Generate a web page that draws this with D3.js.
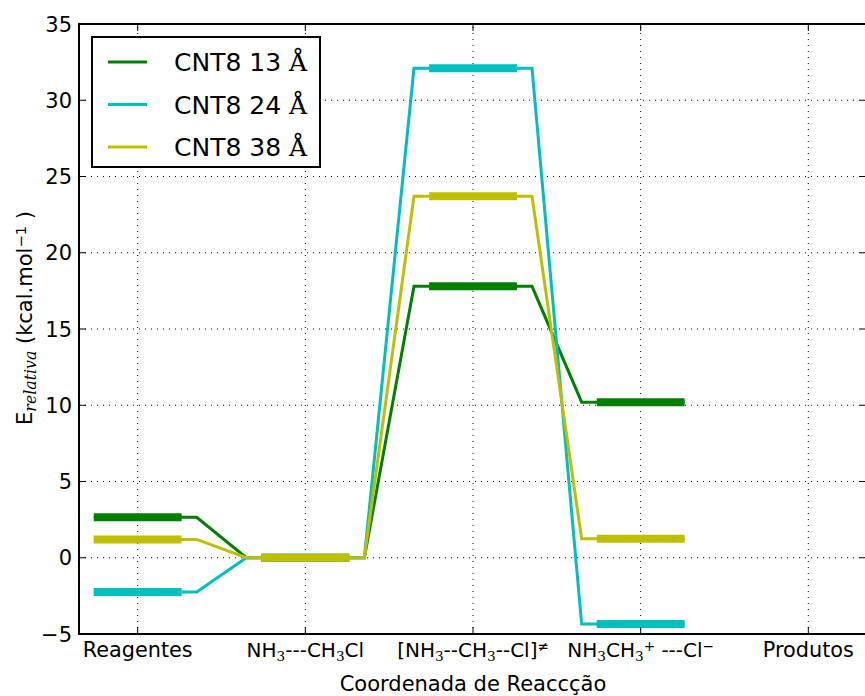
<!DOCTYPE html>
<html>
<head>
<meta charset="utf-8">
<script src="https://cdn.jsdelivr.net/npm/d3@7"></script>
<style>
body{margin:0;background:#fff;}
text{font-family:"DejaVu Sans",sans-serif;fill:#000;}
.m{font-family:"DejaVu Serif",serif;}
</style>
</head>
<body>
<script>
var width=865, height=696;

// reaction coordinate labels (rich text pieces: [text, kind])
var steps=[
	[["Reagentes",""]],
	[["NH",""],["3","sub"],["---CH",""],["3","sub"],["Cl",""]],
	[["[NH",""],["3","sub"],["--CH",""],["3","sub"],["--Cl]",""],["≠","sup"]],
	[["NH",""],["3","sub"],["CH",""],["3","sub"],["+","sup"],[" ---Cl",""],["−","sup"]],
	[["Produtos",""]]
];
var series=["CNT8 13","CNT8 24","CNT8 38"];
var colors=["#008000","#00bfbf","#bfbf00"];
var e13=[2.65,0,17.8,10.2];
var e24=[-2.25,0,32.1,-4.35];
var e38=[1.2,0,23.7,1.25];
var energies=[e13,e24,e38];
var yTicks=[-5,0,5,10,15,20,25,30,35];

var margin={left:79,top:24,right:867,bottom:634},
	barHalf=0.262, gap=0.352;

var svg=d3.select("body").append("svg").attr("width",width).attr("height",height)

var x=d3.scaleLinear().domain([-0.35,4.35]).range([margin.left,margin.right]),
	y=d3.scaleLinear().domain([-5,35]).range([margin.bottom,margin.top]);

var plot=svg.append("g")

// grid
plot.selectAll("line.gx").data(d3.range(steps.length)).enter().append("line").attr("class","gx")
	.attr("x1",d=>x(d)).attr("x2",d=>x(d)).attr("y1",y(-5)).attr("y2",y(35))
	.attr("stroke","#000").attr("stroke-width",1).attr("stroke-dasharray","1,5")
plot.selectAll("line.gy").data(yTicks).enter().append("line").attr("class","gy")
	.attr("y1",d=>y(d)).attr("y2",d=>y(d)).attr("x1",margin.left).attr("x2",margin.right)
	.attr("stroke","#000").attr("stroke-width",1).attr("stroke-dasharray","1,5")

// energy profiles
function profile(vals){
	var pts=[]
	vals.forEach((v,i)=>{
		pts.push([i==0?i-barHalf:i-gap,v])
		pts.push([i==vals.length-1?i+barHalf:i+gap,v])
	})
	return pts
}
var line=d3.line().x(d=>x(d[0])).y(d=>y(d[1]))

var g=plot.selectAll("g.series").data(energies).enter().append("g").attr("class","series")
g.append("path").attr("d",d=>line(profile(d)))
	.attr("fill","none").attr("stroke",(d,i)=>colors[i]).attr("stroke-width",3).attr("stroke-linejoin","miter")
g.selectAll("line.lvl").data(d=>d).enter().append("line").attr("class","lvl")
	.attr("x1",(d,i)=>x(i-barHalf)).attr("x2",(d,i)=>x(i+barHalf))
	.attr("y1",d=>y(d)).attr("y2",d=>y(d))
	.attr("stroke",function(){return colors[energies.indexOf(d3.select(this.parentNode).datum())]})
	.attr("stroke-width",8)

// frame
svg.append("rect").attr("x",margin.left).attr("y",margin.top)
	.attr("width",margin.right-margin.left).attr("height",margin.bottom-margin.top)
	.attr("fill","none").attr("stroke","#000").attr("stroke-width",2)

// inward ticks
var tk=7
d3.range(steps.length).forEach(i=>{
	svg.append("line").attr("x1",x(i)).attr("x2",x(i)).attr("y1",margin.bottom).attr("y2",margin.bottom-tk).attr("stroke","#000")
	svg.append("line").attr("x1",x(i)).attr("x2",x(i)).attr("y1",margin.top).attr("y2",margin.top+tk).attr("stroke","#000")
})
yTicks.forEach(v=>{
	svg.append("line").attr("x1",margin.left).attr("x2",margin.left+tk).attr("y1",y(v)).attr("y2",y(v)).attr("stroke","#000")
	svg.append("line").attr("x1",margin.right).attr("x2",margin.right-tk).attr("y1",y(v)).attr("y2",y(v)).attr("stroke","#000")
})

// y tick labels
svg.selectAll("text.yt").data(yTicks).enter().append("text").attr("class","yt")
	.attr("x",margin.left-7).attr("y",d=>y(d)).attr("dy","0.36em")
	.attr("text-anchor","end").style("font-size","21px")
	.text(d=>d<0?"−"+Math.abs(d):d)

// x tick labels
function rich(sel,parts){
	parts.forEach(p=>{
		var t=sel.append("tspan").text(p[0])
		if(p[1]=="sub") t.attr("class","m").attr("baseline-shift","-25%").style("font-size","68%")
		if(p[1]=="sup") t.attr("baseline-shift","40%").style("font-size","68%")
	})
}
steps.forEach((s,i)=>{
	var t=svg.append("text").attr("x",x(i)).attr("y",657).attr("text-anchor","middle").style("font-size","20.8px")
	if(s.length>1) t.style("font-size","20px")
	rich(t,s)
})

// axis titles
svg.append("text").attr("x",x(2)).attr("y",691).attr("text-anchor","middle").style("font-size","21px")
	.text("Coordenada de Reaccção")
var yl=svg.append("text").attr("transform","translate(32,318) rotate(-90)").attr("text-anchor","middle").style("font-size","21px")
yl.append("tspan").text("E")
yl.append("tspan").attr("class","m").style("font-style","italic").style("font-size","75%").attr("baseline-shift","-25%").text("relativa")
yl.append("tspan").text(" (kcal.mol")
yl.append("tspan").attr("baseline-shift","40%").style("font-size","70%").text("−1")
yl.append("tspan").text(" )")

// legend
var lg=svg.append("g")
lg.append("rect").attr("x",92).attr("y",37).attr("width",228).attr("height",130)
	.attr("fill","#fff").attr("stroke","#000").attr("stroke-width",2)
var items=lg.selectAll("g.item").data(series).enter().append("g").attr("class","item")
	.attr("transform",(d,i)=>"translate(0,"+(62+i*42.5)+")")
items.append("line").attr("x1",108).attr("x2",147).attr("stroke",(d,i)=>colors[i]).attr("stroke-width",3)
var lt=items.append("text").attr("x",174).attr("dy","0.36em").style("font-size","25px")
lt.append("tspan").text(d=>d+" ")
lt.append("tspan").attr("class","m").text("Å")
</script>
</body>
</html>
